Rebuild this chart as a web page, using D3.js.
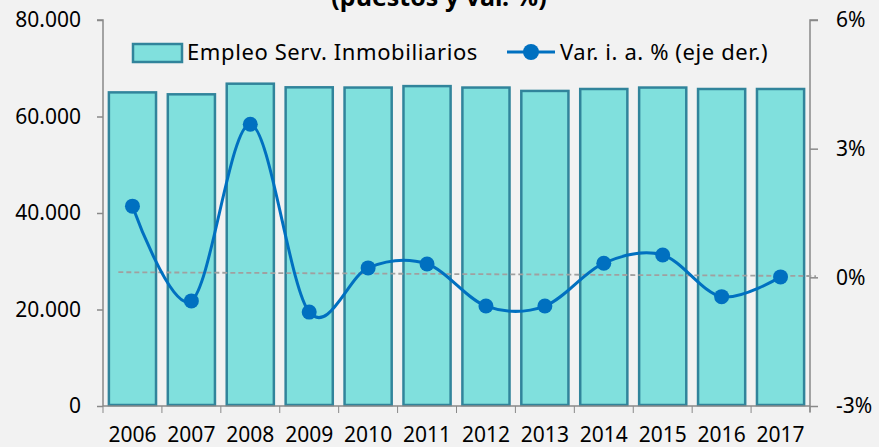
<!DOCTYPE html>
<html lang="es">
<head>
    <meta charset="UTF-8">
    <title>Empleo Serv. Inmobiliarios</title>
    <script src="https://cdn.jsdelivr.net/npm/d3@7"></script>
    <style>
        body { margin: 0; background: #f2f2f2; }
        text { font-family: "Noto Sans", "Open Sans", sans-serif; fill: #000; }
    </style>
</head>
<body>
    <svg width="879" height="447" id="mainsvg"></svg>
    <script>
        // datos
        const years = ['2006','2007','2008','2009','2010','2011','2012','2013','2014','2015','2016','2017']
        const empleo = [65000, 64600, 66800, 66050, 66000, 66300, 66000, 65300, 65700, 66000, 65700, 65700]
        const varia = [1.66, -0.55, 3.57, -0.81, 0.22, 0.31, -0.67, -0.67, 0.33, 0.52, -0.45, 0.01]
        const leftTicks = [0, 20000, 40000, 60000, 80000]
        const rightTicks = [-3, 0, 3, 6]
        const refLine = [0.12, 0.03]

        const svg = d3.select('#mainsvg')
        const margin = {top: 20, right: 69, bottom: 41, left: 103}
        const width = +svg.attr('width')
        const height = +svg.attr('height')
        const innerW = width - margin.left - margin.right
        const innerH = height - margin.top - margin.bottom

        svg.append('rect').attr('width', width).attr('height', height).attr('fill', '#f2f2f2')

        const g = svg.append('g').attr('transform', `translate(${margin.left},${margin.top})`)

        const x = d3.scaleBand().domain(years).range([0, innerW]).paddingInner(0.2).paddingOuter(0.1)
        const yL = d3.scaleLinear().domain([0, 80000]).range([innerH, 0])
        const yR = d3.scaleLinear().domain([-3, 6]).range([innerH, 0])

        const es = d3.formatLocale({decimal: ',', thousands: '.', grouping: [3], currency: ['', '€']})
        const axisColor = '#898989'

        // barras
        g.selectAll('.bar').data(years).join('rect')
            .attr('class', 'bar')
            .attr('x', d => x(d))
            .attr('width', x.bandwidth())
            .attr('y', (d, i) => yL(empleo[i]))
            .attr('height', (d, i) => innerH - yL(empleo[i]) - 1)
            .attr('fill', '#80e0dd')
            .attr('stroke', '#31849b')
            .attr('stroke-width', 2.5)

        // eje izq
        const yAxisL = g.append('g')
            .call(d3.axisLeft(yL).tickValues(leftTicks).tickSize(6).tickFormat(es.format(',.0f')))
        yAxisL.selectAll('text').attr('font-size', 21).attr('x', -22)

        // eje der
        const yAxisR = g.append('g').attr('transform', `translate(${innerW},0)`)
            .call(d3.axisRight(yR).tickValues(rightTicks).tickSize(8).tickFormat(d => d + '%'))
        yAxisR.selectAll('text').attr('font-size', 21).attr('x', 26)

        // eje x
        const xAxis = g.append('g').attr('transform', `translate(0,${innerH})`)
            .call(d3.axisBottom(x).tickSize(0))
        xAxis.selectAll('text').attr('font-size', 21).attr('dy', 0).attr('y', 36)
        xAxis.selectAll('.tick line').remove()
        const bounds = d3.range(years.length + 1).map(i => i * x.step())
        xAxis.selectAll('.sep').data(bounds).join('line')
            .attr('x1', d => d).attr('x2', d => d)
            .attr('y1', 0).attr('y2', 7)
            .attr('stroke', axisColor)

        ;[yAxisL, yAxisR, xAxis].forEach(a => {
            a.selectAll('.domain').attr('stroke', axisColor).attr('stroke-width', 1.5)
            a.selectAll('.tick line').attr('stroke', axisColor).attr('stroke-width', 1.5)
        })
        yAxisL.select('.domain').attr('d', `M-6,0H0V${innerH}`)
        yAxisR.select('.domain').attr('d', `M8,0H0V${innerH + 6}`)
        xAxis.select('.domain').attr('d', `M0,0H${innerW}`)

        // linea discontinua de referencia
        g.append('line')
            .attr('x1', x(years[0]) + x.bandwidth() * 0.2)
            .attr('x2', innerW + 6)
            .attr('y1', yR(refLine[0]))
            .attr('y2', yR(refLine[1]))
            .attr('stroke', '#a0a0a0')
            .attr('stroke-width', 1.8)
            .attr('stroke-dasharray', '5,3')

        // linea var. %
        const line = d3.line()
            .x((d, i) => x(years[i]) + x.bandwidth() / 2)
            .y(d => yR(d))
            .curve(d3.curveCardinal.tension(0))

        g.append('path').datum(varia)
            .attr('d', line)
            .attr('fill', 'none')
            .attr('stroke', '#0070c0')
            .attr('stroke-width', 3)

        g.selectAll('.dot').data(varia).join('circle')
            .attr('class', 'dot')
            .attr('cx', (d, i) => x(years[i]) + x.bandwidth() / 2)
            .attr('cy', d => yR(d))
            .attr('r', 7.5)
            .attr('fill', '#0070c0')

        // titulo (cortado arriba)
        svg.append('text')
            .attr('x', 439).attr('y', 6)
            .attr('text-anchor', 'middle')
            .attr('font-size', 25)
            .attr('font-weight', 'bold')
            .text('(puestos y var. %)')

        // leyenda
        const leg = svg.append('g')
        leg.append('rect')
            .attr('x', 133).attr('y', 44).attr('width', 49).attr('height', 18)
            .attr('fill', '#80e0dd').attr('stroke', '#31849b').attr('stroke-width', 2.5)
        leg.append('text')
            .attr('x', 187).attr('y', 60).attr('font-size', 22).attr('letter-spacing', 0.6)
            .text('Empleo Serv. Inmobiliarios')
        leg.append('line')
            .attr('x1', 507).attr('x2', 555).attr('y1', 52).attr('y2', 52)
            .attr('stroke', '#0070c0').attr('stroke-width', 3)
        leg.append('circle')
            .attr('cx', 531).attr('cy', 52).attr('r', 8).attr('fill', '#0070c0')
        leg.append('text')
            .attr('x', 560).attr('y', 60).attr('font-size', 22).attr('letter-spacing', 0.6)
            .text('Var. i. a. % (eje der.)')
    </script>
</body>
</html>
